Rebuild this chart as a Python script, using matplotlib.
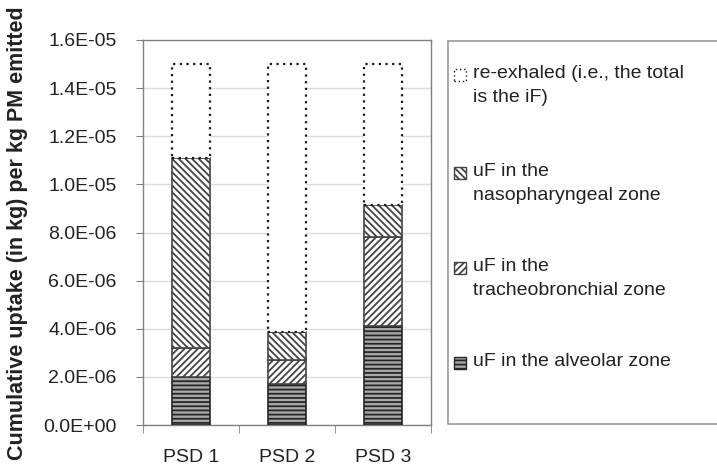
import matplotlib
matplotlib.use("Agg")
import matplotlib.pyplot as plt
from matplotlib.patches import Rectangle
from matplotlib.ticker import FuncFormatter, MultipleLocator, FixedLocator

plt.rcParams['font.family'] = ['Liberation Sans', 'DejaVu Sans']
plt.rcParams['hatch.linewidth'] = 1.3

# Données (kg absorbés par kg de PM émis)
categories = ['PSD 1', 'PSD 2', 'PSD 3']
alveolar = [2.0e-6, 1.7e-6, 4.1e-6]
tracheo = [1.2e-6, 1.0e-6, 3.7e-6]
naso = [7.9e-6, 1.15e-6, 1.35e-6]
reexhaled = [3.9e-6, 11.15e-6, 5.85e-6]

labels = ["uF in the alveolar zone",
          "uF in the\ntracheobronchial zone",
          "uF in the\nnasopharyngeal zone",
          "re-exhaled (i.e., the total\nis the iF)"]

W, H = 717, 470
fig = plt.figure(figsize=(W / 100, H / 100), dpi=100)
ax = fig.add_axes([143 / W, (H - 425) / H, (431 - 143) / W, (425 - 40) / H])

# styles des segments (bas -> haut)
styles = [
    dict(facecolor='#a8a8a8', hatch='----', edgecolor='#262626', linewidth=1.2),
    dict(facecolor='white', hatch='/////', edgecolor='#444444', linewidth=1.2),
    dict(facecolor='white', hatch='\\\\\\\\\\', edgecolor='#444444', linewidth=1.2),
    dict(facecolor='white', edgecolor='#1a1a1a', linewidth=1.6, linestyle=(0, (1, 2.0))),
]

x = range(len(categories))
bottom = [0, 0, 0]
for serie, st in zip([alveolar, tracheo, naso, reexhaled], styles):
    ax.bar(x, serie, width=0.4, bottom=bottom, zorder=3, **st)
    bottom = [b + v for b, v in zip(bottom, serie)]

ax.set_xlim(-0.5, 2.5)
ax.set_ylim(0, 1.6e-5)
ax.yaxis.set_major_locator(MultipleLocator(2e-6))
ax.yaxis.set_major_formatter(FuncFormatter(lambda v, p: '{:.1E}'.format(v)))
ax.set_xticks(list(x))
ax.set_xticklabels(categories)
ax.xaxis.set_minor_locator(FixedLocator([-0.5, 0.5, 1.5, 2.5]))
ax.tick_params(axis='x', which='major', length=0, pad=17, labelsize=14, labelcolor='#222222')
ax.tick_params(axis='x', which='minor', length=6, color='#808080', direction='out')
ax.tick_params(axis='y', length=5, color='#808080', direction='out', pad=14, labelsize=14, labelcolor='#222222')
ax.grid(axis='y', color='#dcdcdc', linewidth=1, zorder=0)
for s in ax.spines.values():
    s.set_color('#808080')
    s.set_linewidth(1.0)

fig.text(18 / W, 1 - 233 / H, "Cumulative uptake (in kg) per kg PM emitted",
         rotation=90, ha='center', va='center', fontsize=15.5, fontweight='bold', color='#222222')

# Légende dessinée à la main (cadre + carrés hachurés)
fig.patches.append(Rectangle((448 / W, (H - 424) / H), (730 - 448) / W, (424 - 41) / H,
                             transform=fig.transFigure, facecolor='white',
                             edgecolor='#999999', linewidth=1.2))
entry_y = [363, 268, 173, 75]
for lab, st, yy in zip(labels, styles, entry_y):
    box = dict(st)
    box['linewidth'] = 1.0
    fig.patches.append(Rectangle((454 / W, (H - yy - 6) / H), 12 / W, 12 / H,
                                 transform=fig.transFigure, **box))
    fig.text(473 / W, (H - yy + 10) / H, lab, ha='left', va='top', fontsize=14,
             color='#222222', linespacing=1.55)

fig.savefig('out.png', dpi=100, facecolor='white')
